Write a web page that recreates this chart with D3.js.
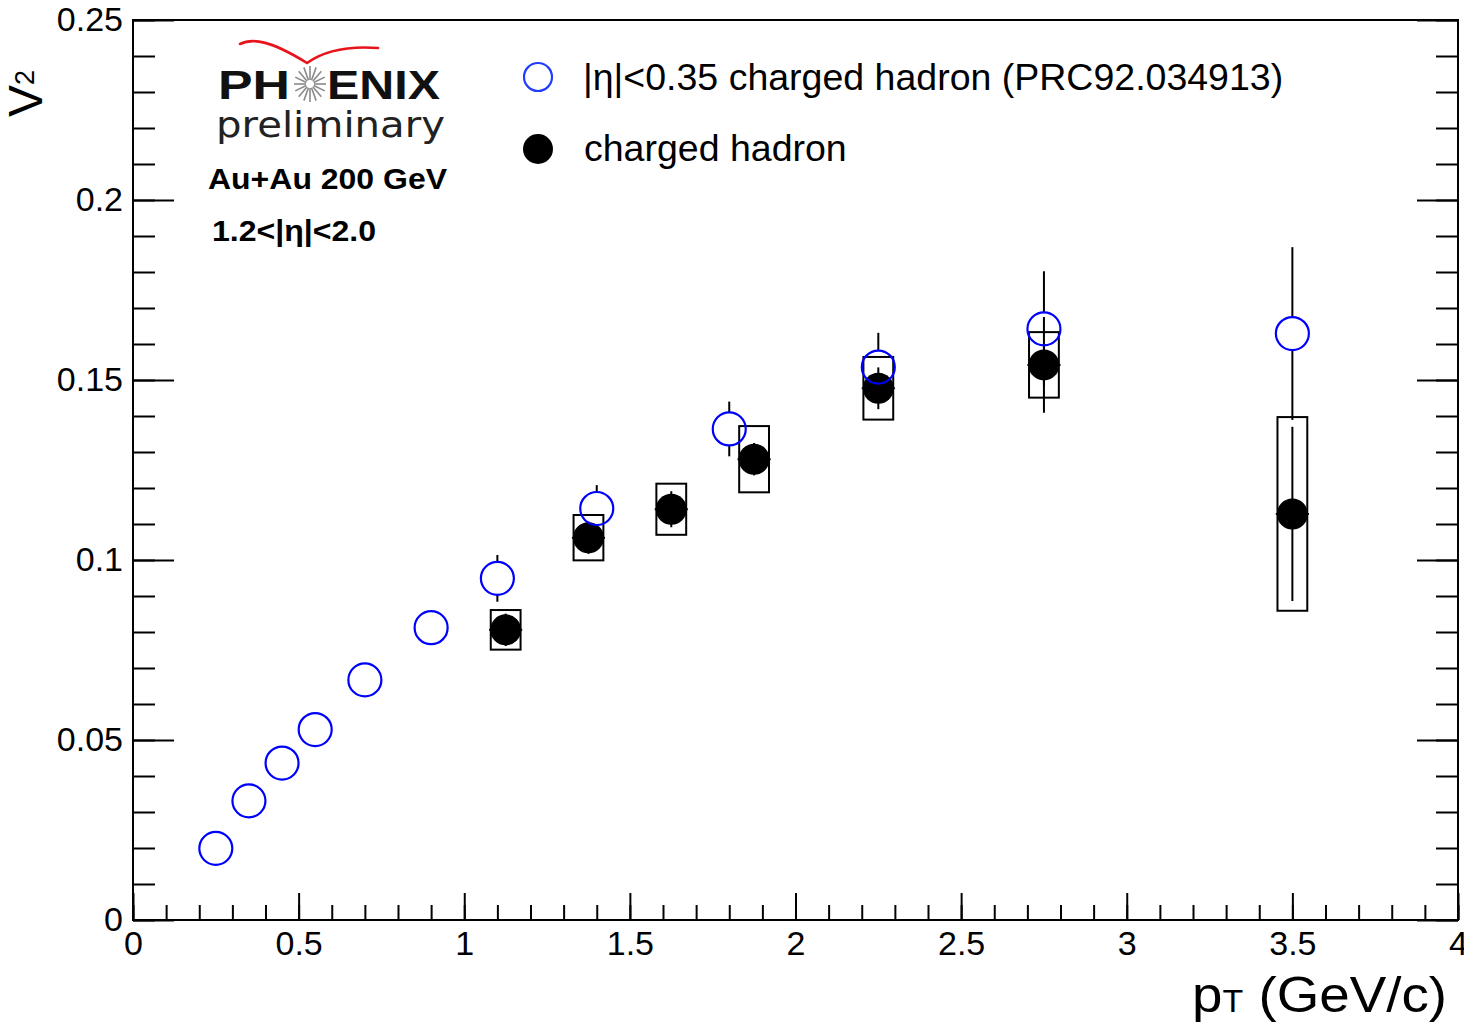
<!DOCTYPE html>
<html>
<head>
<meta charset="utf-8">
<script src="https://cdn.jsdelivr.net/npm/d3@7"></script>
<style>
  html, body { margin: 0; padding: 0; background: #fff; }
  svg { display: block; font-family: "Liberation Sans", Arial, Helvetica, sans-serif; }
</style>
</head>
<body>
<svg id="chart" width="1464" height="1027"></svg>
<script>
// ---- data ----
const xTickVals = [0, 0.5, 1, 1.5, 2, 2.5, 3, 3.5, 4];
const xTickLabels = ["0", "0.5", "1", "1.5", "2", "2.5", "3", "3.5", "4"];
const yTickVals = [0, 0.05, 0.1, 0.15, 0.2, 0.25];
const yTickLabels = ["0", "0.05", "0.1", "0.15", "0.2", "0.25"];

// |eta|<0.35 charged hadron (PRC92.034913)
const refPt  = [0.25, 0.35, 0.45, 0.55, 0.70, 0.90, 1.10, 1.40, 1.80, 2.25, 2.75, 3.50];
const refV2  = [0.0199, 0.0331, 0.0436, 0.0529, 0.0667, 0.0812, 0.0949, 0.1143, 0.1364, 0.1536, 0.1642, 0.1629];
const refErr = [0.001, 0.001, 0.001, 0.001, 0.001, 0.0015, 0.0065, 0.0065, 0.0076, 0.0095, 0.016, 0.024];

// charged hadron, 1.2<|eta|<2.0
const chPt   = [1.125, 1.375, 1.625, 1.875, 2.25, 2.75, 3.50];
const chV2   = [0.0806, 0.1062, 0.1141, 0.1280, 0.1477, 0.1542, 0.1128];
const chStat = [0.0045, 0.0045, 0.005, 0.0045, 0.0058, 0.0133, 0.0242];
const chSys  = [0.0055, 0.0063, 0.0071, 0.0092, 0.0087, 0.0091, 0.0269];
const chXErr = [0.05, 0.05, 0.05, 0.05, 0.05, 0.05, 0.05];
const sysHalfWidth = 0.045;

const legendLabels = ["|η|<0.35 charged hadron (PRC92.034913)", "charged hadron"];

// ---- layout ----
const svg = d3.select("#chart");
const L = 133, R = 1458, T = 20, B = 920;
const x = d3.scaleLinear().domain([0, 4]).range([L, R]);
const y = d3.scaleLinear().domain([0, 0.25]).range([B, T]);

const minorX = d3.range(0, 41).map(i => i / 10);
const minorY = d3.range(0, 26).map(i => i / 100);

function styleAxis(g) {
  g.select(".domain").remove();
  g.selectAll("line").attr("stroke", "#000").attr("stroke-width", 2);
  g.selectAll("text").attr("fill", "#000").style("font-size", "34px")
    .style("font-family", '"Liberation Sans", Arial, sans-serif');
}

// x axis (bottom) minor + major
svg.append("g").attr("transform", `translate(0,${B})`)
  .call(d3.axisBottom(x).tickValues(minorX).tickSizeInner(-15).tickSizeOuter(0).tickFormat(""))
  .call(styleAxis);
svg.append("g").attr("transform", `translate(0,${B})`)
  .call(d3.axisBottom(x).tickValues(xTickVals).tickSizeInner(-27).tickSizeOuter(0).tickPadding(11)
    .tickFormat((d, i) => xTickLabels[i]))
  .call(styleAxis);

// y axis left minor + major
svg.append("g").attr("transform", `translate(${L},0)`)
  .call(d3.axisLeft(y).tickValues(minorY).tickSizeInner(-22).tickSizeOuter(0).tickFormat(""))
  .call(styleAxis);
svg.append("g").attr("transform", `translate(${L},0)`)
  .call(d3.axisLeft(y).tickValues(yTickVals).tickSizeInner(-41).tickSizeOuter(0).tickPadding(10)
    .tickFormat((d, i) => yTickLabels[i]))
  .call(styleAxis);

// y axis right (mirrored ticks, no labels)
svg.append("g").attr("transform", `translate(${R},0)`)
  .call(d3.axisRight(y).tickValues(minorY).tickSizeInner(-22).tickSizeOuter(0).tickFormat(""))
  .call(styleAxis);
svg.append("g").attr("transform", `translate(${R},0)`)
  .call(d3.axisRight(y).tickValues(yTickVals).tickSizeInner(-41).tickSizeOuter(0).tickFormat(""))
  .call(styleAxis);

// frame
svg.append("rect").attr("x", L).attr("y", T).attr("width", R - L).attr("height", B - T)
  .attr("fill", "none").attr("stroke", "#000").attr("stroke-width", 2);

// axis titles
const yt = svg.append("text").attr("transform", "translate(42,117) rotate(-90)")
  .style("font-size", "48px").attr("fill", "#000");
yt.append("tspan").text("V");
yt.append("tspan").attr("dy", -8).style("font-size", "27px").text("2");

const xt = svg.append("text").attr("x", 1192).attr("y", 1012)
  .attr("textLength", 255).attr("lengthAdjust", "spacingAndGlyphs")
  .style("font-size", "50px").attr("fill", "#000");
xt.append("tspan").text("p");
xt.append("tspan").style("font-size", "31px").text("T");
xt.append("tspan").style("font-size", "50px").text(" (GeV/c)");

// ---- charged hadron (black) ----
const chData = chPt.map((p, i) => ({ p, v: chV2[i], s: chStat[i], sys: chSys[i], xe: chXErr[i] }));
const rBlack = 15.5;
const gCh = svg.append("g");
gCh.selectAll("rect.sys").data(chData).enter().append("rect")
  .attr("x", d => x(d.p - sysHalfWidth)).attr("y", d => y(d.v + d.sys))
  .attr("width", d => x(d.p + sysHalfWidth) - x(d.p - sysHalfWidth))
  .attr("height", d => y(d.v - d.sys) - y(d.v + d.sys))
  .attr("fill", "none").attr("stroke", "#000").attr("stroke-width", 2);
gCh.selectAll("line.stat").data(chData).enter().append("line")
  .attr("x1", d => x(d.p)).attr("x2", d => x(d.p))
  .attr("y1", d => y(d.v + d.s)).attr("y2", d => y(d.v - d.s))
  .attr("stroke", "#000").attr("stroke-width", 2);
gCh.selectAll("line.xerr").data(chData).enter().append("line")
  .attr("x1", d => x(d.p - d.xe)).attr("x2", d => x(d.p + d.xe))
  .attr("y1", d => y(d.v)).attr("y2", d => y(d.v))
  .attr("stroke", "#000").attr("stroke-width", 2);
gCh.selectAll("circle").data(chData).enter().append("circle")
  .attr("cx", d => x(d.p)).attr("cy", d => y(d.v)).attr("r", rBlack).attr("fill", "#000");

// ---- reference (blue open) ----
const refData = refPt.map((p, i) => ({ p, v: refV2[i], e: refErr[i] }));
const rBlue = 16.5;
const gRef = svg.append("g");
refData.forEach(d => {
  const cy = y(d.v), top = y(d.v + d.e), bot = y(d.v - d.e), cx = x(d.p);
  if (cy - top > rBlue) gRef.append("line").attr("x1", cx).attr("x2", cx).attr("y1", top).attr("y2", cy - rBlue)
    .attr("stroke", "#000").attr("stroke-width", 2);
  if (bot - cy > rBlue) gRef.append("line").attr("x1", cx).attr("x2", cx).attr("y1", cy + rBlue).attr("y2", bot)
    .attr("stroke", "#000").attr("stroke-width", 2);
});
gRef.selectAll("circle").data(refData).enter().append("circle")
  .attr("cx", d => x(d.p)).attr("cy", d => y(d.v)).attr("r", rBlue)
  .attr("fill", "none").attr("stroke", "#0000ff").attr("stroke-width", 2.2);

// ---- legend ----
svg.append("circle").attr("cx", 538).attr("cy", 77).attr("r", 14)
  .attr("fill", "none").attr("stroke", "#1f3cff").attr("stroke-width", 2.2);
svg.append("text").attr("x", 583).attr("y", 90).style("font-size", "37.5px").attr("fill", "#000")
  .text(legendLabels[0]);
svg.append("circle").attr("cx", 538).attr("cy", 149).attr("r", 15).attr("fill", "#000");
svg.append("text").attr("x", 584).attr("y", 161).style("font-size", "37.5px").attr("fill", "#000")
  .text(legendLabels[1]);

// ---- PHENIX logo ----
const logo = svg.append("g");
logo.append("path")
  .attr("d", "M240,44 C252,38 270,40 307,63 C325,50 350,46 378,48")
  .attr("fill", "none").attr("stroke", "#e8141c").attr("stroke-width", 2.6).attr("stroke-linecap", "round");
logo.append("text").attr("x", 218).attr("y", 99).attr("textLength", 72).attr("lengthAdjust", "spacingAndGlyphs")
  .style("font-size", "40px").style("font-weight", "bold").attr("fill", "#111").text("PH");
logo.append("text").attr("x", 327).attr("y", 99).attr("textLength", 113).attr("lengthAdjust", "spacingAndGlyphs")
  .style("font-size", "40px").style("font-weight", "bold").attr("fill", "#111").text("ENIX");
const starC = [310, 84];
d3.range(16).forEach(i => {
  const a = i * Math.PI * 2 / 16;
  logo.append("line")
    .attr("x1", starC[0] + 4 * Math.cos(a)).attr("y1", starC[1] + 4 * Math.sin(a))
    .attr("x2", starC[0] + 16 * Math.cos(a)).attr("y2", starC[1] + 18 * Math.sin(a))
    .attr("stroke", "#8a8a8a").attr("stroke-width", 1.6);
});
logo.append("text").attr("x", 216).attr("y", 137).attr("textLength", 229).attr("lengthAdjust", "spacingAndGlyphs")
  .style("font-size", "36px").style("font-family", '"DejaVu Sans", sans-serif').attr("fill", "#222").text("preliminary");

svg.append("text").attr("x", 208).attr("y", 189).attr("textLength", 239).attr("lengthAdjust", "spacingAndGlyphs")
  .style("font-size", "30px").style("font-weight", "bold").attr("fill", "#000").text("Au+Au 200 GeV");
svg.append("text").attr("x", 212).attr("y", 241).attr("textLength", 164).attr("lengthAdjust", "spacingAndGlyphs")
  .style("font-size", "29px").style("font-weight", "bold").attr("fill", "#000").text("1.2<|η|<2.0");
</script>
</body>
</html>
